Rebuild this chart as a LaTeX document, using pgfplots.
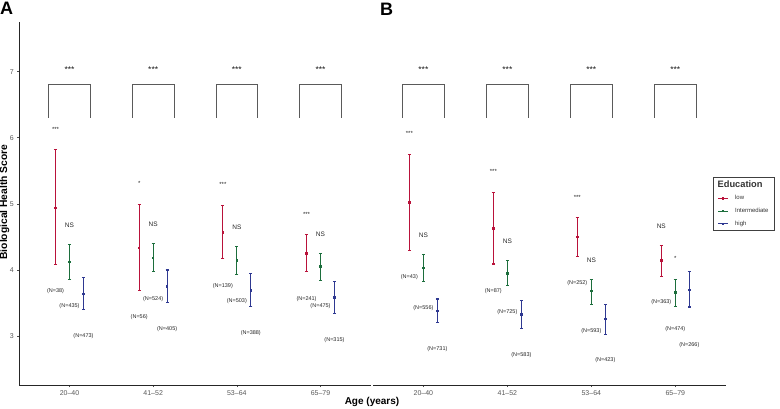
\documentclass[border=0pt]{standalone}
\usepackage{pgfplots}
\pgfplotsset{compat=1.18}
\usepackage{pgfplotstable}
\usepackage{fontspec}
\setmainfont{Liberation Sans}
\definecolor{lowc}{RGB}{185,18,58}
\definecolor{intc}{RGB}{28,110,60}
\definecolor{highc}{RGB}{46,56,145}
\definecolor{brk}{RGB}{90,90,90}

% panel A: x  mean  upper  lower
\pgfplotstableread{
x y hi lo
0.833 4.94 5.82 4.08
1.833 4.33 4.99 3.69
2.833 4.57 4.98 4.17
3.833 4.25 4.53 3.97
}\lowA
\pgfplotstableread{
x y hi lo
1 4.12 4.38 3.86
2 4.18 4.40 3.97
3 4.14 4.36 3.93
4 4.05 4.25 3.84
}\intA
\pgfplotstableread{
x y hi lo
1.167 3.64 3.89 3.40
2.167 3.75 4.00 3.51
3.167 3.69 3.94 3.45
4.167 3.58 3.83 3.34
}\highA
% panel B
\pgfplotstableread{
x y hi lo
0.833 5.02 5.74 4.30
1.833 4.63 5.17 4.09
2.833 4.50 4.79 4.21
3.833 4.14 4.37 3.90
}\lowB
\pgfplotstableread{
x y hi lo
1 4.03 4.24 3.83
2 3.95 4.14 3.76
3 3.68 3.86 3.48
4 3.66 3.86 3.45
}\intB
\pgfplotstableread{
x y hi lo
1.167 3.38 3.56 3.20
2.167 3.33 3.54 3.12
3.167 3.26 3.48 3.03
4.167 3.70 3.98 3.44
}\highB

\pgfplotsset{
  ebar/.style={only marks, mark=square*, mark size=0.7pt, line width=1.1pt, forget plot,
    error bars/y dir=both, error bars/y explicit,
    error bars/error bar style={line width=1.1pt},
    error bars/error mark options={rotate=90, mark size=1.6pt, line width=1.1pt}},
  common/.style={scale only axis, width=351.4pt, height=363pt,
    xmin=0.4, xmax=4.6, ymin=2.26, ymax=7.75, clip=false,
    xtick={1,2,3,4}, xticklabels={20--40,41--52,53--64,65--79},
    ytick={3,4,5,6,7},
    tick align=outside, major tick length=2pt,
    tick style={black!70, line width=0.5pt},
    axis line style={black!85, line width=0.6pt},
    ticklabel style={font=\fontsize{7}{8}\selectfont, text=black!65},
    /pgf/number format/assume math mode=true,
    xtick pos=bottom, ytick pos=left},
}
\tikzset{
  sig/.style={font=\fontsize{6}{7}\selectfont, text=black!85},
  ns/.style={font=\fontsize{6.5}{7}\selectfont, text=black!85},
  nlab/.style={font=\fontsize{5.5}{6}\selectfont, text=black!85},
  big/.style={font=\fontsize{8.5}{9}\selectfont, text=black!90},
}

\begin{document}
\begin{tikzpicture}
\useasboundingbox (0,0) rectangle (780pt,408pt);
% ---------- Panel A
\begin{axis}[common, at={(19.3pt,23pt)}, anchor=south west,
  axis x line*=bottom, axis y line*=left,
  ylabel={\textbf{Biological Health Score}},
  ylabel style={at={(axis description cs:-0.042,0.504)}, anchor=center, font=\fontsize{10.3}{11}\selectfont}]
\addplot[brk, line width=0.8pt, forget plot] coordinates {(0.75,6.3) (0.75,6.8) (1.25,6.8) (1.25,6.3)};
\addplot[brk, line width=0.8pt, forget plot] coordinates {(1.75,6.3) (1.75,6.8) (2.25,6.8) (2.25,6.3)};
\addplot[brk, line width=0.8pt, forget plot] coordinates {(2.75,6.3) (2.75,6.8) (3.25,6.8) (3.25,6.3)};
\addplot[brk, line width=0.8pt, forget plot] coordinates {(3.75,6.3) (3.75,6.8) (4.25,6.8) (4.25,6.3)};
\addplot[lowc, ebar] table[x=x, y=y, y error plus expr=\thisrow{hi}-\thisrow{y}, y error minus expr=\thisrow{y}-\thisrow{lo}] {\lowA};
\addplot[intc, ebar] table[x=x, y=y, y error plus expr=\thisrow{hi}-\thisrow{y}, y error minus expr=\thisrow{y}-\thisrow{lo}] {\intA};
\addplot[highc, ebar] table[x=x, y=y, y error plus expr=\thisrow{hi}-\thisrow{y}, y error minus expr=\thisrow{y}-\thisrow{lo}] {\highA};
\node[big] at (axis cs:1,7.03) {***};
\node[big] at (axis cs:2,7.03) {***};
\node[big] at (axis cs:3,7.03) {***};
\node[big] at (axis cs:4,7.03) {***};
\node[sig] at (axis cs:0.833,6.12) {***};
\node[sig] at (axis cs:1.833,5.31) {*};
\node[sig] at (axis cs:2.833,5.29) {***};
\node[sig] at (axis cs:3.833,4.84) {***};
\node[ns] at (axis cs:1,4.67) {NS};
\node[ns] at (axis cs:2,4.69) {NS};
\node[ns] at (axis cs:3,4.65) {NS};
\node[ns] at (axis cs:4,4.54) {NS};
\node[nlab] at (axis cs:0.833,3.68) {(N=38)};
\node[nlab] at (axis cs:1,3.45) {(N=435)};
\node[nlab] at (axis cs:1.167,3.00) {(N=473)};
\node[nlab] at (axis cs:1.833,3.28) {(N=56)};
\node[nlab] at (axis cs:2,3.56) {(N=524)};
\node[nlab] at (axis cs:2.167,3.11) {(N=405)};
\node[nlab] at (axis cs:2.833,3.76) {(N=139)};
\node[nlab] at (axis cs:3,3.53) {(N=503)};
\node[nlab] at (axis cs:3.167,3.05) {(N=388)};
\node[nlab] at (axis cs:3.833,3.56) {(N=241)};
\node[nlab] at (axis cs:4,3.45) {(N=475)};
\node[nlab] at (axis cs:4.167,2.94) {(N=315)};
\end{axis}
% ---------- Panel B
\begin{axis}[common, at={(373pt,23pt)}, anchor=south west, width=352.7pt,
  axis x line*=bottom, axis y line=none,
  legend image code/.code={\draw[mark repeat=2,mark phase=2,#1] plot coordinates {(0pt,0pt) (5pt,0pt) (10pt,0pt)};},
  legend style={at={(0.965,0.573)}, anchor=north west, draw=black!75, line width=0.4pt,
    font=\fontsize{6}{7}\selectfont, text=black!80, inner xsep=4pt, inner ysep=2.3pt,
    row sep=5.3pt, column sep=4.5pt,
    nodes={inner ysep=0.8pt}},
  legend cell align=left]
\addlegendimage{empty legend}
\addlegendentry{\makebox[0pt][l]{\hspace{-17.5pt}\fontsize{9.3}{10}\selectfont\textbf{Education}}}
\addlegendimage{lowc, line width=1.1pt, mark=square*, mark size=0.7pt}
\addlegendentry{low}
\addlegendimage{intc, line width=1.1pt, mark=square*, mark size=0.7pt}
\addlegendentry{Intermediate}
\addlegendimage{highc, line width=1.1pt, mark=square*, mark size=0.7pt}
\addlegendentry{high}
\addplot[brk, line width=0.8pt, forget plot] coordinates {(0.75,6.3) (0.75,6.8) (1.25,6.8) (1.25,6.3)};
\addplot[brk, line width=0.8pt, forget plot] coordinates {(1.75,6.3) (1.75,6.8) (2.25,6.8) (2.25,6.3)};
\addplot[brk, line width=0.8pt, forget plot] coordinates {(2.75,6.3) (2.75,6.8) (3.25,6.8) (3.25,6.3)};
\addplot[brk, line width=0.8pt, forget plot] coordinates {(3.75,6.3) (3.75,6.8) (4.25,6.8) (4.25,6.3)};
\addplot[lowc, ebar] table[x=x, y=y, y error plus expr=\thisrow{hi}-\thisrow{y}, y error minus expr=\thisrow{y}-\thisrow{lo}] {\lowB};
\addplot[intc, ebar] table[x=x, y=y, y error plus expr=\thisrow{hi}-\thisrow{y}, y error minus expr=\thisrow{y}-\thisrow{lo}] {\intB};
\addplot[highc, ebar] table[x=x, y=y, y error plus expr=\thisrow{hi}-\thisrow{y}, y error minus expr=\thisrow{y}-\thisrow{lo}] {\highB};
\node[big] at (axis cs:1,7.03) {***};
\node[big] at (axis cs:2,7.03) {***};
\node[big] at (axis cs:3,7.03) {***};
\node[big] at (axis cs:4,7.03) {***};
\node[sig] at (axis cs:0.833,6.06) {***};
\node[sig] at (axis cs:1.833,5.49) {***};
\node[sig] at (axis cs:2.833,5.10) {***};
\node[ns] at (axis cs:3.833,4.66) {NS};
\node[sig] at (axis cs:4,4.17) {*};
\node[ns] at (axis cs:1,4.53) {NS};
\node[ns] at (axis cs:2,4.43) {NS};
\node[ns] at (axis cs:3,4.15) {NS};
\node[nlab] at (axis cs:0.833,3.89) {(N=43)};
\node[nlab] at (axis cs:1,3.42) {(N=556)};
\node[nlab] at (axis cs:1.167,2.80) {(N=731)};
\node[nlab] at (axis cs:1.833,3.68) {(N=87)};
\node[nlab] at (axis cs:2,3.36) {(N=725)};
\node[nlab] at (axis cs:2.167,2.72) {(N=583)};
\node[nlab] at (axis cs:2.833,3.80) {(N=252)};
\node[nlab] at (axis cs:3,3.08) {(N=593)};
\node[nlab] at (axis cs:3.167,2.63) {(N=423)};
\node[nlab] at (axis cs:3.833,3.51) {(N=363)};
\node[nlab] at (axis cs:4,3.10) {(N=474)};
\node[nlab] at (axis cs:4.167,2.87) {(N=266)};
\end{axis}
% ---------- titles
\node[font=\fontsize{10}{11}\selectfont\bfseries, anchor=base] at (372pt,3.5pt) {Age (years)};
\node[font=\fontsize{18}{20}\selectfont\bfseries, anchor=base west, inner sep=0pt] at (0pt,393pt) {A};
\node[font=\fontsize{18}{20}\selectfont\bfseries, anchor=base west, inner sep=0pt] at (380pt,392.5pt) {B};
\end{tikzpicture}
\end{document}
